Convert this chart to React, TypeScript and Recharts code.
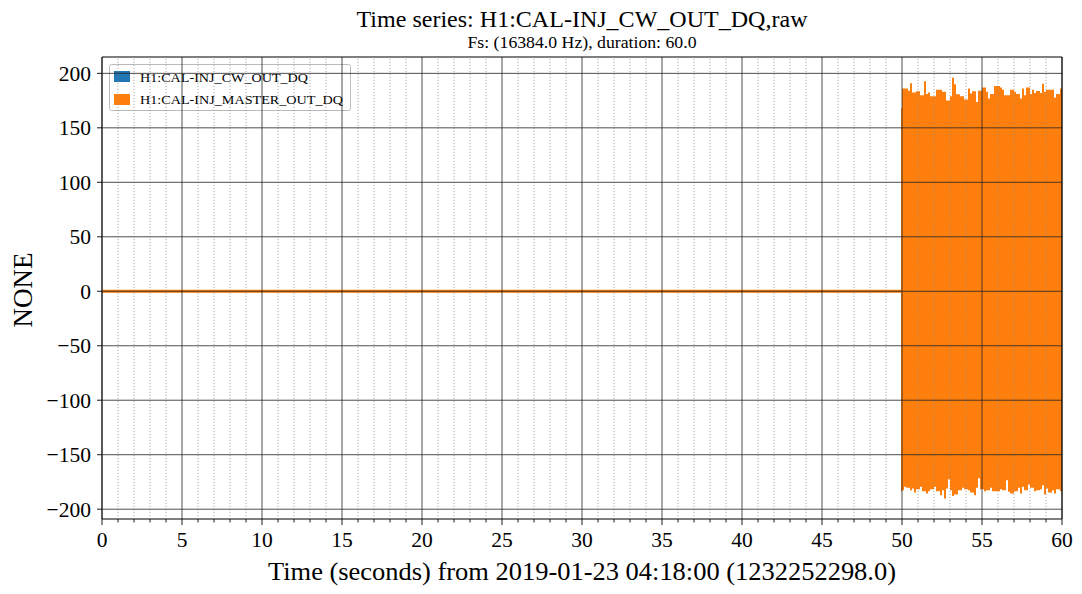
import React from 'react';
import { ComposedChart, Area, Line, XAxis, YAxis, ReferenceLine } from 'recharts';

const FONT = "'Liberation Serif', 'DejaVu Serif', serif";

const TITLE = 'Time series: H1:CAL-INJ_CW_OUT_DQ,raw';
const SUBTITLE = 'Fs: (16384.0 Hz), duration: 60.0';
const X_LABEL = 'Time (seconds) from 2019-01-23 04:18:00 (1232252298.0)';
const Y_LABEL = 'NONE';

const SERIES_NAMES = ['H1:CAL-INJ_CW_OUT_DQ', 'H1:CAL-INJ_MASTER_OUT_DQ'];
const SERIES_COLORS = ['#1f77b4', '#ff7f0e'];

const X_DOMAIN = [0, 60];
const Y_DOMAIN = [-209, 215];
const X_MAJOR_TICKS = [0, 5, 10, 15, 20, 25, 30, 35, 40, 45, 50, 55, 60];
const X_MINOR_TICKS = [
  1, 2, 3, 4, 6, 7, 8, 9, 11, 12, 13, 14, 16, 17, 18, 19, 21, 22, 23, 24, 26, 27, 28, 29,
  31, 32, 33, 34, 36, 37, 38, 39, 41, 42, 43, 44, 46, 47, 48, 49, 51, 52, 53, 54, 56, 57, 58, 59,
];
const X_ALL_TICKS = [...X_MAJOR_TICKS, ...X_MINOR_TICKS].sort((a, b) => a - b);
const Y_TICKS = [-200, -150, -100, -50, 0, 50, 100, 150, 200];

// flat (zero) segments
const CW_TIMES = [0, 60];
const CW_VALUES = [0, 0];
const MASTER_QUIET_TIMES = [0, 50];
const MASTER_QUIET_VALUES = [0, 0];

// envelope of the dense injection burst (50 s .. 60 s)
const BURST_TIMES = [
  49.94,
  50, 50.125, 50.25, 50.375, 50.5, 50.625, 50.75, 50.875,
  51, 51.125, 51.25, 51.375, 51.5, 51.625, 51.75, 51.875,
  52, 52.125, 52.25, 52.375, 52.5, 52.625, 52.75, 52.875,
  53, 53.125, 53.25, 53.375, 53.5, 53.625, 53.75, 53.875,
  54, 54.125, 54.25, 54.375, 54.5, 54.625, 54.75, 54.875,
  55, 55.125, 55.25, 55.375, 55.5, 55.625, 55.75, 55.875,
  56, 56.125, 56.25, 56.375, 56.5, 56.625, 56.75, 56.875,
  57, 57.125, 57.25, 57.375, 57.5, 57.625, 57.75, 57.875,
  58, 58.125, 58.25, 58.375, 58.5, 58.625, 58.75, 58.875,
  59, 59.125, 59.25, 59.375, 59.5, 59.625, 59.75, 59.875,
  60,
];
const BURST_UPPER = [
  168,
  186, 186, 186, 184, 191, 182.5, 182.5, 183.5,
  183.5, 180, 180, 192.7, 181, 182.5, 179, 179,
  179, 185, 185, 185, 183, 183, 175, 175,
  179, 196, 190, 180.7, 180.7, 179, 179, 176,
  176, 186, 181.5, 183.5, 183.5, 173.7, 184, 184,
  187, 187, 183, 177, 181, 181, 188.5, 188.5,
  188.5, 187, 185, 180, 180, 180, 185, 185,
  183, 181, 181, 177, 186, 180, 187, 187,
  181, 185, 182, 183.8, 183.8, 182, 190.5, 183,
  185, 185, 185, 185, 177.7, 181, 181, 186,
  186,
];
const BURST_LOWER = [
  -184,
  -182.6, -179.5, -180.4, -180.4, -182.6, -181, -184.7, -181.7,
  -181.7, -179.5, -183.5, -183.5, -185.6, -183.5, -181.7, -181.7,
  -179.5, -183.5, -183.5, -187.2, -182.6, -190.2, -181, -172.5,
  -182.6, -187.8, -186.5, -186.5, -182.6, -182.6, -180.4, -181.7,
  -181.7, -182.6, -184.7, -184.7, -187.2, -180.4, -171.6, -181.7,
  -181.7, -183.5, -182.6, -182.6, -180.4, -183.5, -183.5, -183.5,
  -183.5, -181.7, -182.6, -182.6, -173.4, -184, -185.6, -185.6,
  -183.5, -183.5, -180.4, -185.6, -179.5, -182.6, -182.6, -177.3,
  -180.4, -180.4, -183.5, -182.6, -182.6, -181.7, -178, -186.5,
  -181, -184.7, -184.7, -182.6, -185.6, -181.7, -181.7, -183.5,
  -183.5,
];

const cwData = CW_TIMES.map((t, i) => ({ t, v: CW_VALUES[i] }));
const quietData = MASTER_QUIET_TIMES.map((t, i) => ({ t, v: MASTER_QUIET_VALUES[i] }));
const burstData = BURST_TIMES.map((t, i) => ({ t, range: [BURST_LOWER[i], BURST_UPPER[i]] }));

const fmtY = (v: number) => (v < 0 ? '\u2212' + Math.abs(v) : String(v));

const XTick = (props: any) => {
  const { x, y, payload } = props;
  const v = payload.value;
  const major = v % 5 === 0;
  return (
    <g>
      <line x1={x} x2={x} y1={y} y2={y + (major ? 6 : 3.5)} stroke="#000" strokeWidth={0.9} />
      {major && (
        <text x={x} y={y + 28} textAnchor="middle" fontSize={21.5} fontFamily={FONT} fill="#000">
          {v}
        </text>
      )}
    </g>
  );
};

export default function App() {
  return (
    <div style={{ position: 'absolute', left: 0, top: 0, width: 1082, height: 594, background: '#fff' }}>
      <ComposedChart
        width={1082}
        height={594}
        margin={{ top: 57, right: 20, bottom: 0, left: 0 }}
        style={{ fontFamily: FONT }}
      >
        <XAxis
          dataKey="t"
          type="number"
          domain={X_DOMAIN}
          ticks={X_ALL_TICKS}
          interval={0}
          allowDataOverflow
          height={75}
          tickSize={0}
          tickMargin={0}
          tickLine={false}
          axisLine={{ stroke: '#000', strokeWidth: 1 }}
          tick={<XTick />}
        />
        <YAxis
          type="number"
          domain={Y_DOMAIN}
          ticks={Y_TICKS}
          interval={0}
          allowDataOverflow
          width={102}
          tickSize={5}
          tickMargin={6}
          tickFormatter={fmtY}
          tickLine={{ stroke: '#000', strokeWidth: 0.9 }}
          axisLine={{ stroke: '#000', strokeWidth: 1 }}
          tick={{ fontSize: 21.5, fontFamily: FONT, fill: '#000' }}
        />
        <Line
          data={cwData}
          dataKey="v"
          stroke={SERIES_COLORS[0]}
          strokeWidth={2}
          dot={false}
          isAnimationActive={false}
          zIndex={50}
        />
        <Line
          data={quietData}
          dataKey="v"
          stroke={SERIES_COLORS[1]}
          strokeWidth={2.8}
          dot={false}
          isAnimationActive={false}
          zIndex={60}
        />
        <Area
          data={burstData}
          dataKey="range"
          type="stepAfter"
          stroke="none"
          fill={SERIES_COLORS[1]}
          fillOpacity={1}
          isAnimationActive={false}
          zIndex={100}
        />
        {X_MINOR_TICKS.map((v) => (
          <ReferenceLine
            key={'xm' + v}
            x={v}
            stroke="#888"
            strokeWidth={0.7}
            strokeDasharray="1.2 1.8"
            zIndex={600}
          />
        ))}
        {X_MAJOR_TICKS.map((v) => (
          <ReferenceLine key={'xM' + v} x={v} stroke="#222" strokeWidth={0.8} zIndex={610} />
        ))}
        {Y_TICKS.map((v) => (
          <ReferenceLine key={'y' + v} y={v} stroke="#222" strokeWidth={0.8} zIndex={610} />
        ))}
        <ReferenceLine y={Y_DOMAIN[1]} stroke="#000" strokeWidth={1} zIndex={620} />
        <ReferenceLine x={X_DOMAIN[1]} stroke="#000" strokeWidth={1} zIndex={620} />

        <text x={582} y={27} textAnchor="middle" fontSize={23.5} fontFamily={FONT} fill="#000" textLength={451} lengthAdjust="spacingAndGlyphs">
          {TITLE}
        </text>
        <text x={582} y={48} textAnchor="middle" fontSize={16} fontFamily={FONT} fill="#000" textLength={229} lengthAdjust="spacingAndGlyphs">
          {SUBTITLE}
        </text>
        <text x={582} y={580} textAnchor="middle" fontSize={26} fontFamily={FONT} fill="#000" textLength={628} lengthAdjust="spacingAndGlyphs">
          {X_LABEL}
        </text>
        <text
          x={31.5}
          y={290}
          textAnchor="middle"
          fontSize={27}
          fontFamily={FONT}
          fill="#000"
          transform="rotate(-90 31.5 290)"
        >
          {Y_LABEL}
        </text>

        <g>
          <rect x={109.5} y={64.5} width={241} height={46} rx={2} fill="#fff" fillOpacity={0.85} stroke="#bbb" strokeWidth={1} />
          {SERIES_NAMES.map((name, i) => (
            <g key={name}>
              <rect x={114} y={71 + i * 23} width={16} height={11} fill={SERIES_COLORS[i]} />
              <text
                x={140}
                y={82 + i * 22}
                fontSize={12.5}
                fontFamily={FONT}
                fill="#000"
                textLength={i === 0 ? 168 : 203}
                lengthAdjust="spacingAndGlyphs"
              >
                {name}
              </text>
            </g>
          ))}
        </g>
      </ComposedChart>
    </div>
  );
}
